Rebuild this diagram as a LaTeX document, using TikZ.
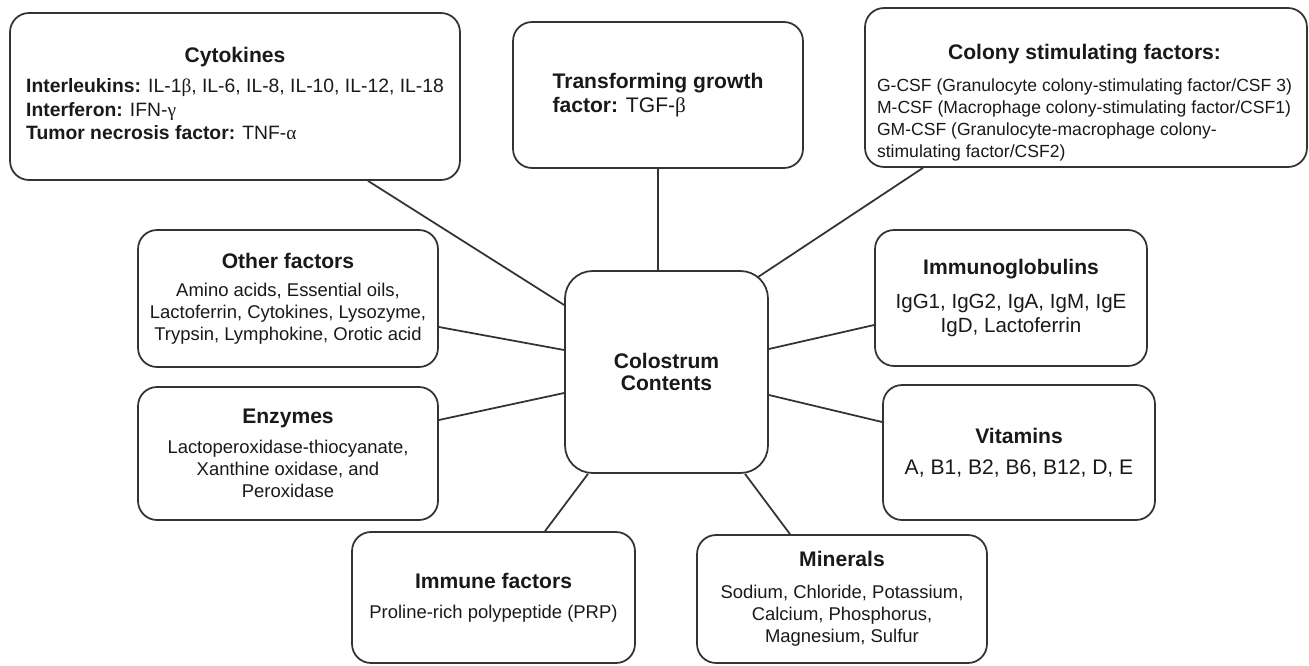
\documentclass[tikz,border=0pt]{standalone}
\usepackage{fontspec}
\setmainfont{Liberation Sans}
\newfontfamily\grk{Liberation Serif}
\newcommand{\ttl}[1]{{\fontsize{12}{14}\selectfont\bfseries #1}}
\newcommand{\gr}[1]{{\grk #1}}

\tikzset{
  box/.style={draw=black!80, line width=1pt, rounded corners=0.38cm, text=black!90,
    align=center, inner sep=0pt, font=\fontsize{10.5}{12.5}\selectfont},
  hub/.style={box, rounded corners=0.55cm, minimum width=4.06cm, minimum height=4.04cm,
    font=\fontsize{12}{13}\selectfont\bfseries},
  link/.style={draw=black!80, line width=1pt}
}

\begin{document}
\begin{tikzpicture}[x=0.02cm, y=-0.02cm]
	\useasboundingbox (0,0) rectangle (1309,666);

	% centre
	\node[hub] (ctr) at (666.5,372) {Colostrum\\Contents};

	% top row
	\node[box, minimum width=9cm, minimum height=3.34cm, font=\fontsize{11}{13.5}\selectfont] (cyto) at (235,96.5) {%
		\begin{tabular}{@{}l@{}}
			\multicolumn{1}{@{}c@{}}{\ttl{Cytokines}}\\[3.5pt]
			\textbf{Interleukins:} IL-1\gr{β}, IL-6, IL-8, IL-10, IL-12, IL-18\\
			\textbf{Interferon:} IFN-\gr{γ}\\
			\textbf{Tumor necrosis factor:} TNF-\gr{α}
		\end{tabular}};
	\node[box, minimum width=5.8cm, minimum height=2.92cm, align=left, font=\fontsize{12}{13.6}\selectfont] (tgf) at (658,95)
		{\textbf{Transforming growth}\\\textbf{factor:} TGF-\gr{β}};
	\node[box, minimum width=8.84cm, minimum height=3.18cm] (csf) at (1086,87.5) {};
	\node[font=\fontsize{10}{12.6}\selectfont, text=black!90, inner sep=0pt] (csftext) at (1084.5,104) {%
		\begin{tabular}{@{}l@{}}
			\multicolumn{1}{@{}c@{}}{\ttl{Colony stimulating factors:}}\\[5.5pt]
			G-CSF (Granulocyte colony-stimulating factor/CSF 3)\\
			M-CSF (Macrophage colony-stimulating factor/CSF1)\\
			GM-CSF (Granulocyte-macrophage colony-\\
			stimulating factor/CSF2)
		\end{tabular}};

	% left and right
	\node[box, minimum width=6cm, minimum height=2.74cm] (other) at (288,298.5)
		{\ttl{Other factors}\\[3.5pt] Amino acids, Essential oils,\\Lactoferrin, Cytokines, Lysozyme,\\Trypsin, Lymphokine, Orotic acid};
	\node[box, minimum width=6cm, minimum height=2.66cm] (enz) at (288,453.5)
		{\ttl{Enzymes}\\[4.5pt] Lactoperoxidase-thiocyanate,\\Xanthine oxidase, and\\Peroxidase};
	\node[box, minimum width=5.44cm, minimum height=2.72cm, font=\fontsize{11.7}{13.6}\selectfont] (igs) at (1011,298)
		{\ttl{Immunoglobulins}\\[5.7pt] IgG1, IgG2, IgA, IgM, IgE\\IgD, Lactoferrin};
	\node[box, minimum width=5.44cm, minimum height=2.7cm, font=\fontsize{12}{14}\selectfont] (vit) at (1019,452.5)
		{\ttl{Vitamins}\\[3.6pt] A, B1, B2, B6, B12, D, E};

	% bottom row
	\node[box, minimum width=5.66cm, minimum height=2.62cm] (imm) at (493.5,597.5)
		{\ttl{Immune factors}\\[4.5pt] Proline-rich polypeptide (PRP)};
	\node[box, minimum width=5.8cm, minimum height=2.56cm] (mins) at (842,599)
		{\ttl{Minerals}\\[5.5pt] Sodium, Chloride, Potassium,\\Calcium, Phosphorus,\\Magnesium, Sulfur};

	% links
	\draw[link] ([xshift=2.66cm]cyto.south) -- ([yshift=1.34cm]ctr.west);
	\draw[link] (tgf.south) -- (tgf.south |- ctr.north);
	\draw[link] ([xshift=-3.26cm]csf.south) -- ([xshift=-0.22cm,yshift=-0.14cm]ctr.north east);
	\draw[link] ([yshift=-0.57cm]other.east) -- ([yshift=0.44cm]ctr.west);
	\draw[link] ([yshift=0.67cm]enz.east) -- ([yshift=-0.42cm]ctr.west);
	\draw[link] ([yshift=0.46cm]ctr.east) -- ([yshift=-0.54cm]igs.west);
	\draw[link] ([yshift=-0.46cm]ctr.east) -- ([yshift=0.61cm]vit.west);
	\draw[link] ([xshift=-1.57cm]ctr.south) -- ([xshift=1.03cm]imm.north);
	\draw[link] ([xshift=1.57cm]ctr.south) -- ([xshift=-1.04cm]mins.north);
\end{tikzpicture}
\end{document}
